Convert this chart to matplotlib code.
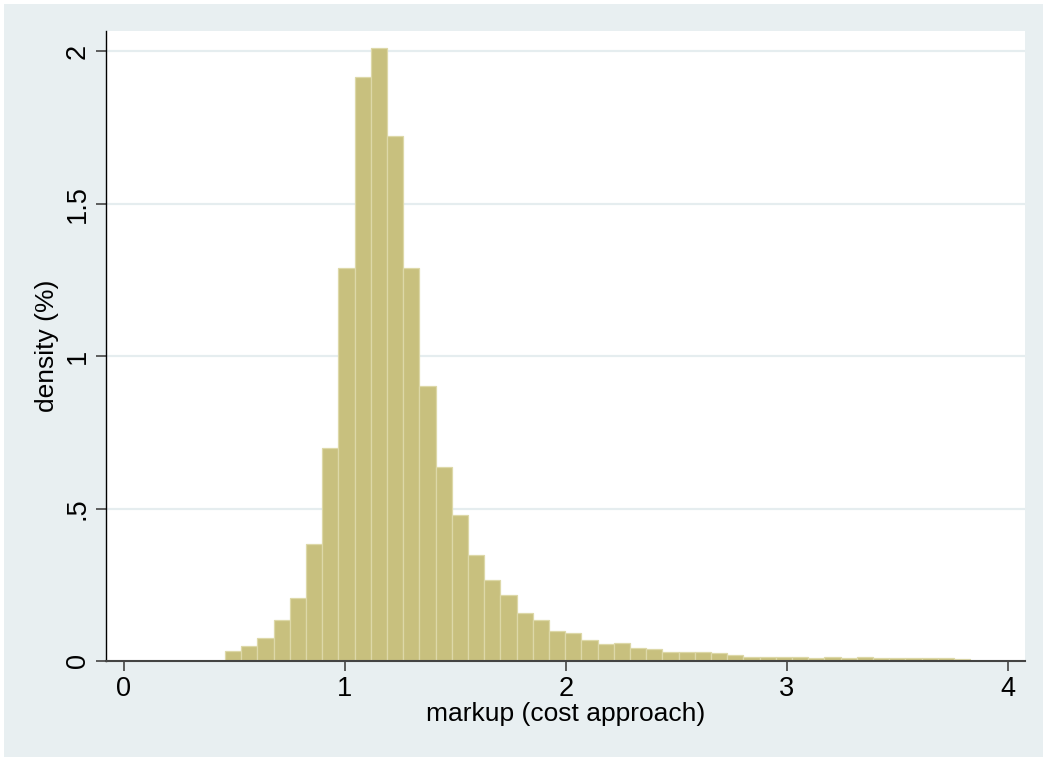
import numpy as np
import matplotlib
matplotlib.use("Agg")
import matplotlib.pyplot as plt

plt.rcParams['font.family'] = ['Liberation Sans', 'DejaVu Sans']

# histogram of markups (density in %)
bin_start = 0.457
bin_width = 0.0733
density = [0.033, 0.049, 0.077, 0.135, 0.208, 0.383, 0.698, 1.288, 1.915, 2.011,
           1.721, 1.288, 0.903, 0.635, 0.479, 0.348, 0.266, 0.215, 0.157, 0.134,
           0.100, 0.091, 0.069, 0.057, 0.060, 0.044, 0.038, 0.030, 0.030, 0.030,
           0.026, 0.020, 0.013, 0.013, 0.013, 0.013, 0.010, 0.014, 0.010, 0.014,
           0.010, 0.010, 0.010, 0.010, 0.010, 0.005]

x_ticks = [0, 1, 2, 3, 4]
y_ticks = [0, 0.5, 1, 1.5, 2]
y_ticklabels = ["0", ".5", "1", "1.5", "2"]

bg = '#E8EFF1'
fig = plt.figure(figsize=(10.46, 7.6), dpi=100, facecolor=bg)
fig.patch.set_edgecolor('white')
fig.patch.set_linewidth(5)
ax = fig.add_axes([106/1046, 1 - 661/760, (1025-106)/1046, (661-31)/760])
ax.set_facecolor('white')

lefts = bin_start + bin_width * np.arange(len(density))
ax.bar(lefts, density, width=bin_width, align='edge', color='#C8C07E',
       edgecolor='#DDD8A8', linewidth=0.9, zorder=2)

ax.set_xlim(-0.081, 4.077)
ax.set_ylim(0, 2.066)

for y in y_ticks[1:]:
    ax.axhline(y, color='#E5EDEF', lw=1.6, zorder=1)

ax.set_xticks(x_ticks)
ax.set_yticks(y_ticks)
ax.set_yticklabels(y_ticklabels, rotation=90, va='center')
ax.tick_params(axis='both', direction='out', length=7, width=1.2, color='#444444',
               labelsize=19.5, pad=4)
for s in ['top', 'right']:
    ax.spines[s].set_visible(False)
ax.spines['left'].set_color('black')
ax.spines['left'].set_linewidth(1.0)
ax.spines['bottom'].set_color('#444444')
ax.spines['bottom'].set_linewidth(1.5)

ax.set_xlabel("markup (cost approach)", fontsize=19, labelpad=0)
ax.set_ylabel("density (%)", fontsize=19, labelpad=4)

fig.savefig("out.png", dpi=100, facecolor=bg, edgecolor='white')
